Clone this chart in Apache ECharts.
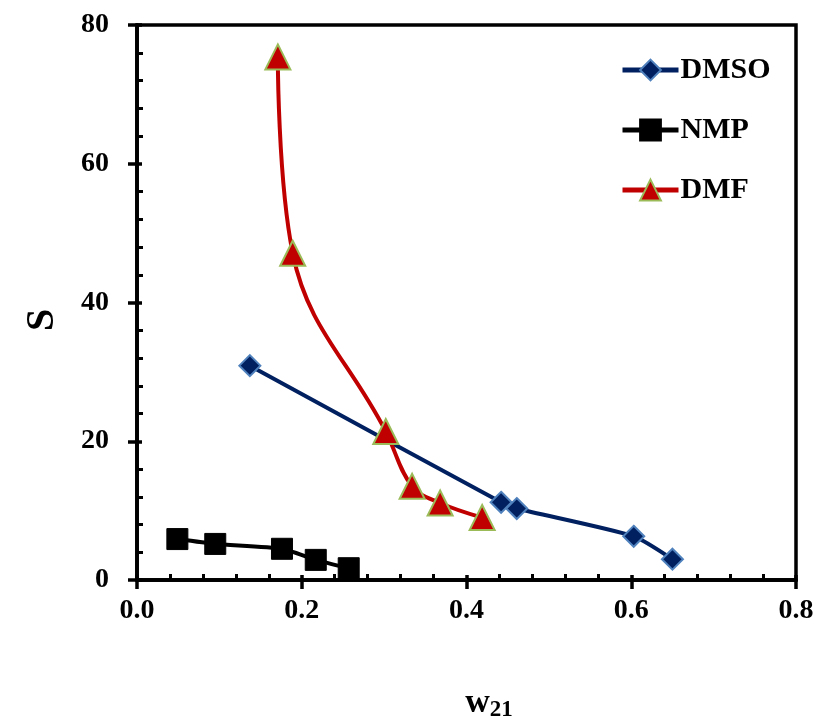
<!DOCTYPE html>
<html><head><meta charset="utf-8">
<script src="https://cdn.jsdelivr.net/npm/echarts@6/dist/echarts.min.js"></script>
<style>html,body{margin:0;padding:0;background:#fff}#c{width:820px;height:727px}</style>
</head><body><div id="c"></div>
<script>
const dmsoX = [0.137, 0.442, 0.461, 0.603, 0.650];
const dmsoY = [30.9, 11.2, 10.3, 6.3, 3.0];
const nmpX = [0.049, 0.095, 0.176, 0.217, 0.257];
const nmpY = [5.9, 5.2, 4.5, 2.9, 1.7];
const dmfX = [0.171, 0.189, 0.302, 0.334, 0.368, 0.419];
const dmfY = [75.4, 47.1, 21.4, 13.5, 11.1, 9.0];
const xTicks = [0.0, 0.2, 0.4, 0.6, 0.8];
const yTicks = [0, 20, 40, 60, 80];

const pairs = (xs, ys) => xs.map((x, i) => [x, ys[i]]);
const font = 'Liberation Serif';
const lbl = {fontFamily: font, fontWeight: 'bold', fontSize: 28, color: '#000'};

const chart = echarts.init(document.getElementById('c'), null, {renderer: 'canvas'});
const xBase = {type: 'value', min: 0, max: 0.8, interval: 0.2, position: 'bottom', gridIndex: 0,
  splitLine: {show: false}, axisLine: {lineStyle: {color: '#000', width: 3.5}}};
const yBase = {type: 'value', min: 0, max: 80, interval: 20, position: 'left', gridIndex: 0,
  splitLine: {show: false}, axisLine: {lineStyle: {color: '#000', width: 3.5}}};
chart.setOption({
  animation: false,
  grid: {left: 137, right: 24, top: 25, bottom: 145, show: true, borderColor: '#000', borderWidth: 3.5, containLabel: false},
  legend: {
    orient: 'vertical', left: 615, top: 50, itemWidth: 56, itemHeight: 26, itemGap: 30,
    lineStyle: {width: 5},
    textStyle: {fontFamily: font, fontWeight: 'bold', fontSize: 30, color: '#000', padding: [0, 0, 0, -3]},
    data: ['DMSO', 'NMP', 'DMF']
  },
  xAxis: [
    Object.assign({}, xBase, {
      axisTick: {show: true, inside: false, length: 9, lineStyle: {color: '#000', width: 3.5}},
      axisLabel: Object.assign({}, lbl, {margin: 17, formatter: v => v.toFixed(1)}),
      name: '{w|w}{s|21}', nameLocation: 'middle', nameGap: 105,
      nameTextStyle: {padding: [0, 0, 0, 45], rich: {w: {fontFamily: font, fontWeight: 'bold', fontSize: 34, color: '#000'}, s: {fontFamily: font, fontWeight: 'bold', fontSize: 23, color: '#000', verticalAlign: 'bottom', padding: [14, 0, 0, 0]}}}
    }),
    Object.assign({}, xBase, {
      axisTick: {show: true, inside: true, length: 5, lineStyle: {color: '#000', width: 3.5}},
      minorTick: {show: true, splitNumber: 5, length: 6, lineStyle: {color: '#000', width: 3}},
      axisLabel: {show: false}
    })
  ],
  yAxis: [
    Object.assign({}, yBase, {
      axisTick: {show: true, inside: false, length: 9, lineStyle: {color: '#000', width: 3.5}},
      axisLabel: Object.assign({}, lbl, {margin: 28}),
      name: 'S', nameLocation: 'middle', nameGap: 74,
      nameTextStyle: {fontFamily: font, fontWeight: 'bold', fontSize: 40, color: '#000', padding: [0, 0, 0, -35]}
    }),
    Object.assign({}, yBase, {
      axisTick: {show: true, inside: true, length: 5, lineStyle: {color: '#000', width: 3.5}},
      minorTick: {show: true, splitNumber: 5, length: 6, lineStyle: {color: '#000', width: 3}},
      axisLabel: {show: false}
    })
  ],
  series: [
    {name: 'DMSO', type: 'line', data: pairs(dmsoX, dmsoY), smooth: 0.2,
      lineStyle: {color: '#002060', width: 4}, symbol: 'diamond', symbolSize: 21,
      itemStyle: {color: '#002060', borderColor: '#4F81BD', borderWidth: 2}, z: 3},
    {name: 'NMP', type: 'line', data: pairs(nmpX, nmpY), smooth: 0.2,
      lineStyle: {color: '#000', width: 4}, symbol: 'rect', symbolSize: 21,
      itemStyle: {color: '#000', borderColor: '#000', borderWidth: 1}, z: 3},
    {name: 'DMF', type: 'line', data: pairs(dmfX, dmfY), smooth: 0.4,
      lineStyle: {color: '#C00000', width: 4}, symbol: 'triangle', symbolSize: 25,
      itemStyle: {color: '#C00000', borderColor: '#9BBB59', borderWidth: 2}, z: 4}
  ]
});
</script></body></html>
